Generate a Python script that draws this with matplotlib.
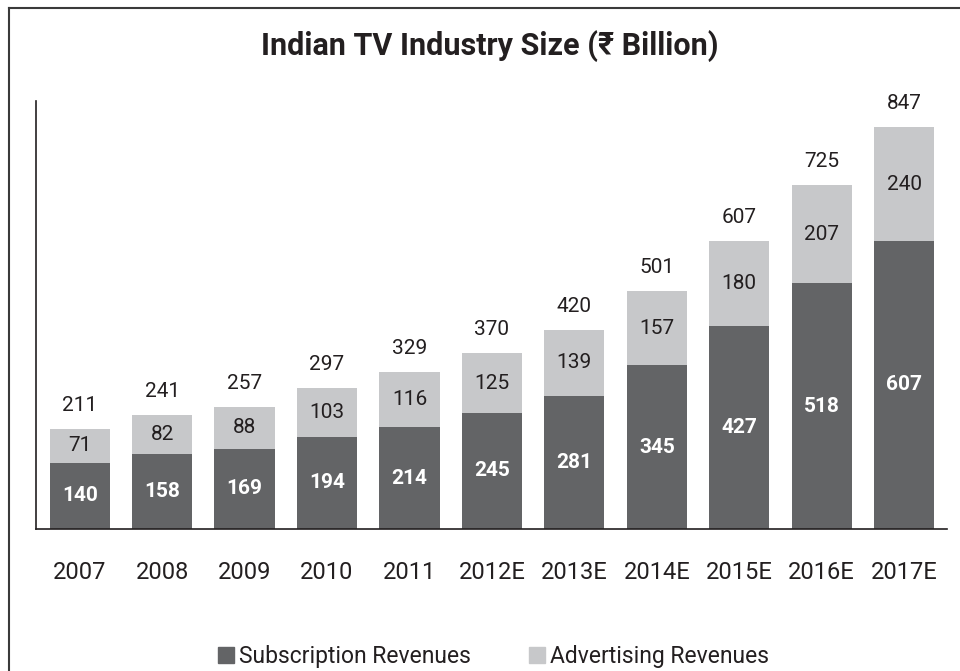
import matplotlib
matplotlib.use("Agg")
import matplotlib.pyplot as plt
from matplotlib.patches import Patch
from matplotlib.lines import Line2D
import numpy as np

plt.rcParams['font.family'] = ['Roboto', 'DejaVu Sans']

years = ['2007', '2008', '2009', '2010', '2011', '2012E', '2013E',
         '2014E', '2015E', '2016E', '2017E']
subscription = [140, 158, 169, 194, 214, 245, 281, 345, 427, 518, 607]
advertising = [71, 82, 88, 103, 116, 125, 139, 157, 180, 207, 240]
totals = [211, 241, 257, 297, 329, 370, 420, 501, 607, 725, 847]

dark = '#636466'
light = '#c7c8ca'
ink = '#231f20'

fig = plt.figure(figsize=(9.6, 6.71), dpi=100)
ax = fig.add_axes([0.0375, 0.2116, 0.949, 0.6379])

x = np.arange(len(years))
w = 0.73
ax.bar(x, subscription, width=w, color=dark)
ax.bar(x, advertising, width=w, bottom=subscription, color=light)

for i in range(len(years)):
    ax.text(x[i], subscription[i] / 2, str(subscription[i]), ha='center', va='center',
            color='white', fontsize=15, fontweight='bold')
    ax.text(x[i], subscription[i] + advertising[i] / 2, str(advertising[i]),
            ha='center', va='center', color=ink, fontsize=15)
    ax.annotate(str(totals[i]), (x[i], subscription[i] + advertising[i]),
                xytext=(0, 17), textcoords='offset points',
                ha='center', va='center', color=ink, fontsize=15)

ax.set_xlim(-0.53, 10.52)
ax.set_ylim(0, 902)
ax.set_xticks(x)
ax.set_xticklabels(years, fontsize=17, color=ink)
ax.set_yticks([])
ax.tick_params(axis='x', length=0, pad=23)
for s in ['top', 'right']:
    ax.spines[s].set_visible(False)
for s in ['left', 'bottom']:
    ax.spines[s].set_color(ink)
    ax.spines[s].set_linewidth(1.2)

fig.text(0.51, 0.932, 'Indian TV Industry Size (₹ Billion)', ha='center', va='center',
         fontsize=22, fontweight='bold', color=ink)

handles = [Patch(color=dark), Patch(color=light)]
fig.legend(handles, ['Subscription Revenues', 'Advertising Revenues'],
           loc='center', bbox_to_anchor=(0.514, 0.022), ncol=2, frameon=False,
           fontsize=16.5, handlelength=0.7, handleheight=0.7, handletextpad=0.25,
           columnspacing=2.5, labelcolor=ink)

# frame lines at the top and left of the figure
fig.add_artist(Line2D([8.5 / 960, 1.0], [1 - 7.5 / 671, 1 - 7.5 / 671],
                      transform=fig.transFigure, color='#3a3a3a', lw=1.5))
fig.add_artist(Line2D([8.5 / 960, 8.5 / 960], [0.0, 1 - 7.5 / 671],
                      transform=fig.transFigure, color='#3a3a3a', lw=1.5))

fig.savefig('out.png', dpi=100)
